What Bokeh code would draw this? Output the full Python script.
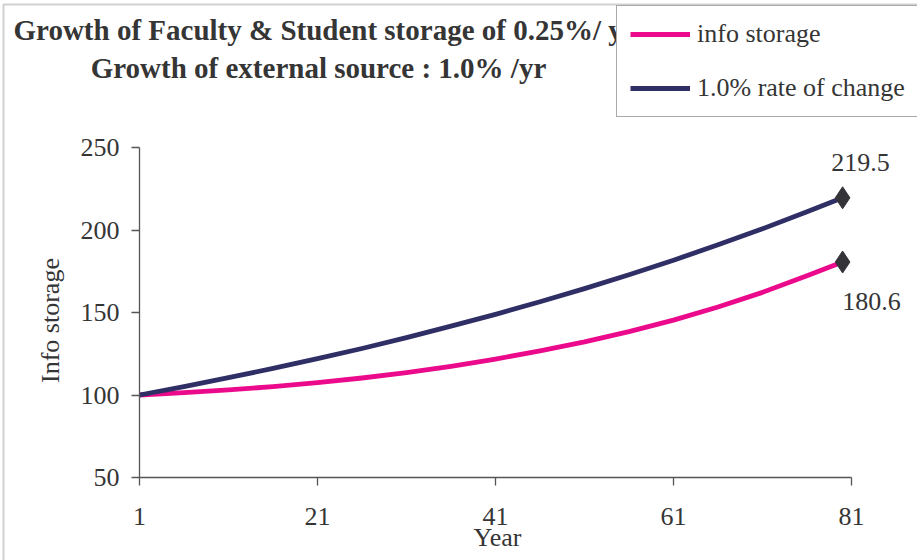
from bokeh.plotting import figure
from bokeh.models import (Range1d, FixedTicker, Label, Legend, LegendItem,
                          BoxAnnotation, ColumnDataSource)
from bokeh.embed import file_html
from bokeh.resources import INLINE

# Years along the x axis and the storage index of each series
years = [1, 6, 11, 16, 21, 26, 31, 36, 41, 46, 51, 56, 61, 66, 71, 76, 80]
info_storage = [100.0, 101.4, 103.1, 105.1, 107.5, 110.3, 113.6, 117.4, 121.8,
                126.7, 132.2, 138.4, 145.4, 153.3, 162.2, 172.2, 180.6]
rate_of_change = [100.0, 105.1, 110.5, 116.1, 122.0, 128.2, 134.8, 141.7, 148.9,
                  156.5, 164.5, 172.9, 181.7, 191.0, 200.7, 211.0, 219.5]

x_ticks = [1, 21, 41, 61, 81]
y_ticks = [50, 100, 150, 200, 250]
x_bounds = (1, 81)
y_bounds = (50, 250)

title_lines = ["Growth of Faculty & Student storage of 0.25%/ yr",
               "Growth of external source : 1.0% /yr"]
series_names = ["info storage", "1.0% rate of change"]

SERIF = "Liberation Serif"
TEXT = "#353535"
PINK = "#EC0A8C"
NAVY = "#2F2F66"

W, H = 917, 560
# where the axis bounds sit on the canvas (pixels from the top-left corner)
AX_L, AX_R, AX_T, AX_B = 139, 851, 147, 477

# The plotting frame fills the whole canvas, so the ranges are widened
# to put the axis bounds at the pixel edges above.
kx = (AX_R - AX_L) / (x_bounds[1] - x_bounds[0])
ky = (AX_B - AX_T) / (y_bounds[1] - y_bounds[0])
x_range = Range1d(x_bounds[0] - AX_L / kx, x_bounds[1] + (W - AX_R) / kx)
y_range = Range1d(y_bounds[0] - (H - AX_B) / ky, y_bounds[1] + AX_T / ky)

p = figure(width=W, height=H, output_backend="svg", toolbar_location=None,
           x_range=x_range, y_range=y_range, min_border=0)
p.outline_line_color = None
p.grid.grid_line_color = None
p.background_fill_color = "white"
p.border_fill_color = "white"

for ax in (p.xaxis[0], p.yaxis[0]):
    ax.axis_line_color = "#555555"
    ax.axis_line_width = 1.3
    ax.major_tick_line_color = "#555555"
    ax.major_tick_line_width = 1.3
    ax.major_tick_out = 8
    ax.major_tick_in = 0
    ax.minor_tick_line_color = None
    ax.major_label_text_font = SERIF
    ax.major_label_text_font_size = "26px"
    ax.major_label_text_color = TEXT

p.xaxis[0].ticker = FixedTicker(ticks=x_ticks)
p.yaxis[0].ticker = FixedTicker(ticks=y_ticks)
p.xaxis[0].bounds = x_bounds
p.yaxis[0].bounds = y_bounds
p.xaxis[0].fixed_location = y_bounds[0]
p.yaxis[0].fixed_location = x_bounds[0]
p.xaxis[0].major_label_standoff = 22
p.yaxis[0].major_label_standoff = 12


def sx(px):
    return px


def sy(py):
    return H - py


# outer chart border
p.add_layout(BoxAnnotation(left=sx(3), right=sx(W + 50), top=sy(4), bottom=sy(H + 50),
                           left_units="screen", right_units="screen",
                           top_units="screen", bottom_units="screen",
                           fill_alpha=0, line_color="#666666", line_width=2))

# series lines
r_pink = p.line(years, info_storage, line_color=PINK, line_width=4.8,
                line_join="round")
r_navy = p.line(years, rate_of_change, line_color=NAVY, line_width=4.8,
                line_join="round")

# end markers with their value labels
end_src = ColumnDataSource(dict(x=[years[-1], years[-1]],
                                y=[rate_of_change[-1], info_storage[-1]],
                                txt=[f"{rate_of_change[-1]:.1f}", f"{info_storage[-1]:.1f}"],
                                dx=[18, 29],
                                dy=[-35, 39]))
p.scatter("x", "y", source=end_src, marker="diamond", size=22,
          fill_color="#333338", line_color="#333338")
p.text("x", "y", text="txt", source=end_src, x_offset="dx", y_offset="dy",
       text_align="center", text_baseline="middle", text_font={"value": SERIF},
       text_font_size="26px", text_color=TEXT)

# titles
p.add_layout(Label(x=sx(13), y=sy(29), x_units="screen", y_units="screen",
                   text=title_lines[0], text_font=SERIF, text_font_style="bold",
                   text_font_size="29px", text_color=TEXT,
                   text_align="left", text_baseline="middle"))
p.add_layout(Label(x=sx(318), y=sy(67), x_units="screen", y_units="screen",
                   text=title_lines[1], text_font=SERIF, text_font_style="bold",
                   text_font_size="29px", text_color=TEXT,
                   text_align="center", text_baseline="middle"))

# axis titles
p.add_layout(Label(x=sx(50), y=sy(320), x_units="screen", y_units="screen",
                   text="Info storage", angle=90, angle_units="deg",
                   text_font=SERIF, text_font_size="26px", text_color=TEXT,
                   text_align="center", text_baseline="middle"))
p.add_layout(Label(x=sx(497), y=sy(537), x_units="screen", y_units="screen",
                   text="Year", text_font=SERIF, text_font_size="26px",
                   text_color=TEXT, text_align="center",
                   text_baseline="middle"))

legend = Legend(items=[LegendItem(label=series_names[0], renderers=[r_pink]),
                       LegendItem(label=series_names[1], renderers=[r_navy])],
                location=(sx(616), sy(117)), orientation="vertical",
                glyph_width=60, glyph_height=30, label_height=30,
                label_standoff=7, spacing=24, padding=13, margin=0,
                label_text_font=SERIF, label_text_font_size="26px",
                label_text_color=TEXT, border_line_color="#555555",
                border_line_width=1.5, background_fill_color="white",
                background_fill_alpha=1.0)
p.add_layout(legend)

open("out.html", "w").write(file_html(p, INLINE))
